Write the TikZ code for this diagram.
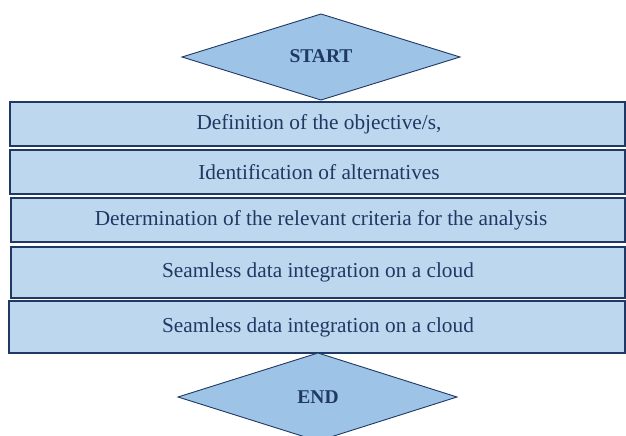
\documentclass[tikz,border=0pt]{standalone}
\usepackage{fontspec}
\setmainfont{Liberation Serif}
\usetikzlibrary{shapes.geometric}
\definecolor{navy}{HTML}{1F3864}
\definecolor{boxfill}{HTML}{BDD7EE}
\definecolor{diafill}{HTML}{9DC3E6}
\tikzset{
  stepbox/.style={draw=navy, line width=1.1pt, fill=boxfill},
  steptext/.style={text=navy, font=\fontsize{21.3}{24}\selectfont},
  diabox/.style={draw=navy, line width=0.9pt, fill=diafill},
  diatext/.style={text=navy, font=\bfseries\fontsize{19.5}{22}\selectfont},
}
\begin{document}
\begin{tikzpicture}[x=1pt,y=-1pt]
\useasboundingbox (0,0) rectangle (626,436);
\clip (0,0) rectangle (626,436);
\fill[white] (0,0) rectangle (626,436);
\draw[stepbox] (10,102) rectangle (625,146);
\node[steptext] (b1) at (319,124) {Definition of the objective/s,};
\draw[stepbox] (10,150) rectangle (625,194);
\node[steptext] (b2) at (319,172) {Identification of alternatives};
\draw[stepbox] (11,198) rectangle (625,242);
\node[steptext] (b3) at (321,220) {Determination of the relevant criteria for the analysis};
\draw[stepbox] (11,247) rectangle (625,298);
\node[steptext] (b4) at (318,272) {Seamless data integration on a cloud};
\draw[stepbox] (9,301) rectangle (625,353);
\node[steptext] (b5) at (318,327) {Seamless data integration on a cloud};
\draw[diabox] (321,14) -- (460,57) -- (321,100) -- (182,57) -- cycle;
\node[diatext] (start) at (321,56) {START};
\draw[diabox] (318,353) -- (457,397) -- (318,441) -- (178,397) -- cycle;
\node[diatext] (end) at (318,397) {END};
\end{tikzpicture}
\end{document}
